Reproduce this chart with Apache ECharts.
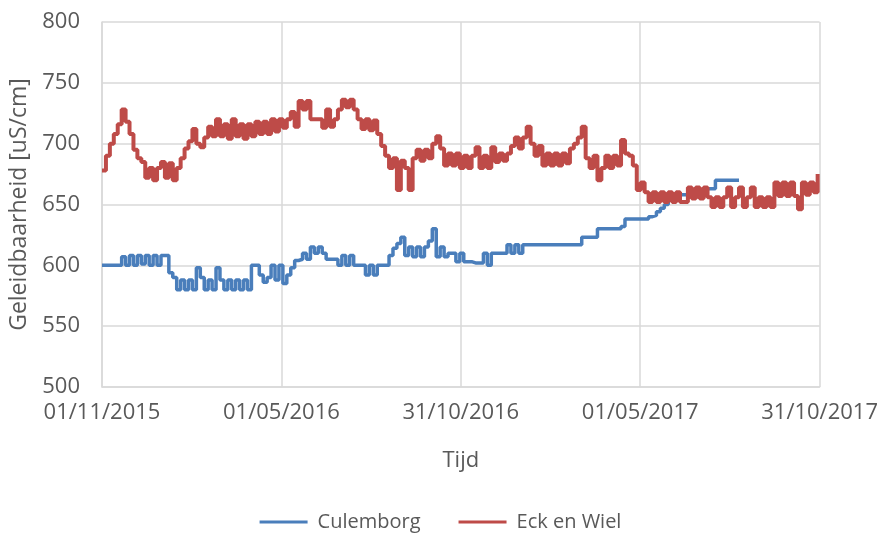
<!DOCTYPE html>
<html lang="nl">
<head>
    <meta charset="utf-8" />
    <title>Geleidbaarheid</title>
    <script src="https://cdn.jsdelivr.net/npm/echarts@6/dist/echarts.min.js"></script>
    <style>
        html, body { margin: 0; padding: 0; background: #fff; }
        #main { width: 881px; height: 539px; }
    </style>
</head>
<body>
<div id="main"></div>
<script type="text/javascript">
    // meetreeks: start 01/11/2015, elke 4 dagen een waarde
    var startDate = Date.UTC(2015, 10, 1);
    var stepDays = 4;

    var culemborg = [
        600, 600, 600, 600, 600, 607, 600, 608, 600, 608,
        601, 608, 600, 608, 600, 608, 608, 594, 590, 580,
        588, 580, 588, 580, 598, 590, 580, 588, 580, 598,
        588, 580, 588, 580, 588, 580, 588, 580, 600, 600,
        592, 586, 590, 600, 588, 600, 585, 592, 598, 604,
        605, 610, 605, 615, 610, 615, 610, 605, 605, 605,
        600, 608, 600, 608, 600, 600, 600, 592, 600, 592,
        600, 600, 600, 608, 614, 618, 623, 608, 615, 607,
        615, 607, 615, 620, 630, 607, 615, 607, 610, 610,
        603, 610, 603, 603, 602, 602, 602, 610, 600, 610,
        610, 610, 610, 617, 610, 617, 610, 617, 617, 617,
        617, 617, 617, 617, 617, 617, 617, 617, 617, 617,
        617, 617, 623, 623, 623, 623, 630, 630, 630, 630,
        630, 630, 632, 638, 638, 638, 638, 638, 638, 640,
        641, 644, 647, 650, 655, 657, 658, 658, 658, 660,
        660, 660, 660, 663, 663, 663, 670, 670, 670, 670,
        670, 670, 670
    ];

    var eckEnWiel = [
        678, 690, 700, 708, 716, 728, 718, 708, 695, 688,
        685, 672, 680, 670, 680, 685, 672, 684, 670, 680,
        688, 696, 702, 712, 700, 697, 705, 714, 706, 720,
        706, 716, 704, 720, 706, 716, 704, 716, 706, 718,
        708, 718, 708, 720, 710, 720, 713, 720, 726, 714,
        735, 728, 735, 720, 720, 720, 713, 728, 714, 720,
        728, 736, 730, 736, 728, 720, 712, 720, 711, 719,
        708, 698, 690, 680, 688, 662, 686, 680, 662, 688,
        695, 686, 695, 688, 700, 706, 696, 682, 692, 682,
        692, 680, 690, 680, 690, 697, 680, 690, 680, 697,
        685, 692, 686, 692, 698, 705, 696, 705, 714, 700,
        690, 698, 682, 692, 682, 692, 682, 692, 684, 696,
        700, 705, 714, 688, 680, 690, 670, 680, 690, 680,
        690, 682, 703, 692, 690, 682, 662, 668, 660, 652,
        660, 652, 660, 652, 660, 652, 660, 652, 652, 664,
        655, 664, 655, 664, 656, 648, 656, 648, 656, 664,
        648, 656, 664, 648, 656, 664, 648, 656, 648, 656,
        648, 668, 657, 668, 657, 668, 657, 646, 668, 658,
        668, 660, 675
    ];

    function pad(n) {
        return (n < 10 ? '0' : '') + n;
    }

    function dayLabel(day) {
        var d = new Date(startDate + day * 86400000);
        return pad(d.getUTCDate()) + '/' + pad(d.getUTCMonth() + 1) + '/' + d.getUTCFullYear();
    }

    function toPoints(values) {
        return values.map(function (v, i) {
            return [i * stepDays, v];
        });
    }

    var myChart = echarts.init(document.getElementById('main'));
    var textColor = '#595959';
    var fontName = 'Open Sans';

    var option = {
        animation: false,
        textStyle: { fontFamily: fontName },
        grid: {
            left: 102,
            right: 59,
            top: 22,
            bottom: 152
        },
        legend: {
            bottom: 2,
            left: 'center',
            itemWidth: 48,
            itemHeight: 3,
            itemGap: 38,
            icon: 'rect',
            textStyle: { color: textColor, fontSize: 20, fontFamily: fontName, padding: [0, 0, 0, 5] },
            data: ['Culemborg', 'Eck en Wiel']
        },
        xAxis: {
            type: 'value',
            min: 0,
            max: 730,
            interval: 182.5,
            name: 'Tijd',
            nameLocation: 'middle',
            nameGap: 63,
            nameTextStyle: { color: textColor, fontSize: 22 },
            axisLine: { show: true, lineStyle: { color: '#d9d9d9', width: 1.5 } },
            axisTick: { show: false },
            axisLabel: {
                color: textColor,
                fontSize: 22,
                margin: 15,
                showMinLabel: true,
                showMaxLabel: true,
                formatter: function (val) {
                    return dayLabel(val);
                }
            },
            splitLine: { show: true, lineStyle: { color: '#d9d9d9', width: 1.5 } }
        },
        yAxis: {
            type: 'value',
            min: 500,
            max: 800,
            interval: 50,
            name: 'Geleidbaarheid [uS/cm]',
            nameLocation: 'middle',
            nameGap: 64,
            nameTextStyle: { color: textColor, fontSize: 23 },
            axisLine: { show: true, lineStyle: { color: '#d9d9d9', width: 1.5 } },
            axisTick: { show: false },
            axisLabel: { color: textColor, fontSize: 22, margin: 22 },
            splitLine: { show: true, lineStyle: { color: '#d9d9d9', width: 1.5 } }
        },
        series: [
            {
                name: 'Culemborg',
                type: 'line',
                step: 'end',
                symbol: 'none',
                data: toPoints(culemborg),
                itemStyle: { color: '#4A7EBB' },
                lineStyle: { color: '#4A7EBB', width: 3.5 }
            },
            {
                name: 'Eck en Wiel',
                type: 'line',
                step: 'end',
                symbol: 'none',
                data: toPoints(eckEnWiel),
                itemStyle: { color: '#BE4B48' },
                lineStyle: { color: '#BE4B48', width: 4 }
            }
        ]
    };

    myChart.setOption(option);
</script>
</body>
</html>
